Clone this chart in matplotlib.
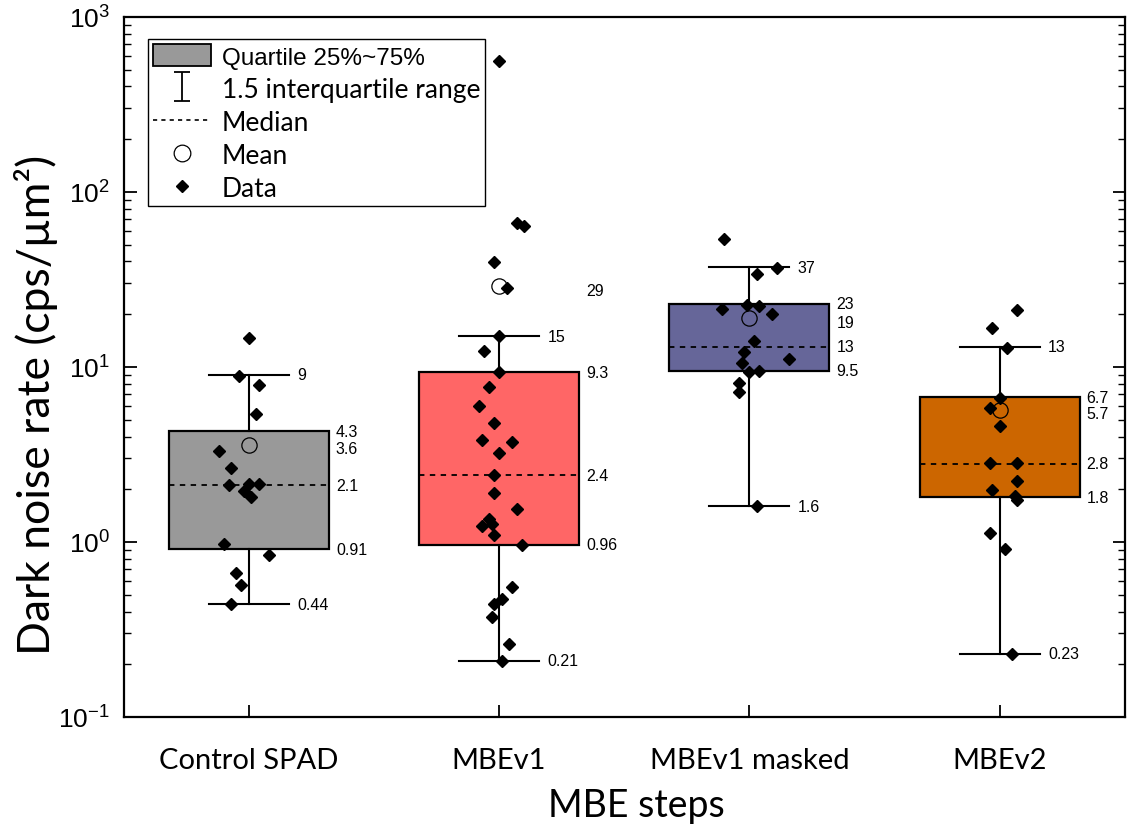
import numpy as np
import matplotlib
matplotlib.use("Agg")
import matplotlib.pyplot as plt
from matplotlib.patches import Patch
from matplotlib.lines import Line2D
from matplotlib.container import ErrorbarContainer
from matplotlib.legend_handler import HandlerErrorbar
from matplotlib.ticker import LogLocator, NullFormatter

plt.rcParams['font.family'] = ['Liberation Sans', 'DejaVu Sans']
plt.rcParams['mathtext.fontset'] = 'custom'
plt.rcParams['mathtext.rm'] = 'Liberation Sans'
plt.rcParams['mathtext.default'] = 'regular'

# categories and box statistics
steps = ["Control SPAD", "MBEv1", "MBEv1 masked", "MBEv2"]
box_colors = ["#999999", "#FF6666", "#666699", "#CC6600"]
q1 = [0.91, 0.96, 9.5, 1.8]
q3 = [4.3, 9.3, 23, 6.7]
medians = [2.1, 2.4, 13, 2.8]
means = [3.6, 29, 19, 5.7]
whis_lo = [0.44, 0.21, 1.6, 0.23]
whis_hi = [9, 15, 37, 13]

# individual devices (dark noise rate, cps/um^2) and their horizontal jitter
control = [14.6, 8.9, 7.9, 5.4, 3.3, 2.64, 2.12, 2.14, 2.14, 1.96, 1.80, 0.97, 0.84, 0.66, 0.57, 0.44]
control_jit = [0.0, -0.04, 0.04, 0.03, -0.12, -0.07, -0.08, 0.0, 0.04, -0.02, 0.01, -0.10, 0.08, -0.05, -0.03, -0.07]
mbev1 = [560, 66, 64, 39.5, 28.1, 15.1, 12.4, 9.3, 7.7, 6.0, 4.8, 3.8, 3.7, 3.2, 2.41, 1.90, 1.54, 1.35,
         1.26, 1.23, 1.09, 0.96, 0.55, 0.47, 0.44, 0.37, 0.26, 0.21]
mbev1_jit = [0.0, 0.07, 0.10, -0.02, 0.03, 0.0, -0.06, 0.0, -0.04, -0.08, -0.02, -0.07, 0.05, 0.0, -0.02, -0.02,
             0.07, -0.04, -0.03, -0.07, -0.02, 0.09, 0.05, 0.01, -0.02, -0.03, 0.04, 0.01]
masked = [53.8, 36.5, 33.9, 21.4, 22.6, 22.2, 20.0, 14.1, 12.1, 11.1, 10.5, 9.3, 9.5, 8.1, 7.2, 1.61]
masked_jit = [-0.10, 0.11, 0.03, -0.11, -0.01, 0.04, 0.09, 0.02, -0.02, 0.16, -0.03, 0.0, 0.04, -0.04, -0.04, 0.03]
mbev2 = [21.2, 16.7, 12.8, 6.6, 5.8, 4.6, 2.82, 2.82, 2.23, 1.98, 1.83, 1.74, 1.13, 0.91, 0.23]
mbev2_jit = [0.07, -0.03, 0.03, 0.0, -0.04, 0.0, -0.04, 0.07, 0.07, -0.03, 0.06, 0.07, -0.04, 0.02, 0.05]

data = [control, mbev1, masked, mbev2]
jitter = [control_jit, mbev1_jit, masked_jit, mbev2_jit]

fig = plt.figure(figsize=(11.35, 8.29), dpi=100)
ax = fig.add_axes([0.109, 0.134, 0.882, 0.8445])

pos = np.arange(1, len(steps) + 1)
stats = [dict(q1=q1[i], q3=q3[i], med=medians[i], mean=means[i], whislo=whis_lo[i], whishi=whis_hi[i], fliers=[])
         for i in range(len(steps))]

bp = ax.bxp(stats, positions=pos, widths=0.64, capwidths=0.32, showmeans=True, patch_artist=True,
            boxprops=dict(edgecolor='black', linewidth=1.6),
            whiskerprops=dict(color='black', linewidth=1.5),
            capprops=dict(color='black', linewidth=1.5),
            medianprops=dict(color='black', linestyle=(0, (3, 3)), linewidth=1.3),
            meanprops=dict(marker='o', markerfacecolor='none', markeredgecolor='black',
                           markersize=11, markeredgewidth=0.9))
for patch, c in zip(bp['boxes'], box_colors):
    patch.set_facecolor(c)

for p, vals, jit in zip(pos, data, jitter):
    ax.plot(p + np.array(jit), vals, linestyle='none', marker='D', markersize=6.5,
            color='black', zorder=6)

# value labels
lab_kw = dict(fontsize=11.5, va='center', ha='left', textcoords='offset points', zorder=7)
for i, p in enumerate(pos):
    for v in (whis_lo[i], whis_hi[i]):
        ax.annotate(f"{v:g}", (p + 0.16, v), xytext=(6, 0), **lab_kw)
    for v in (q1[i], q3[i], medians[i]):
        ax.annotate(f"{v:g}", (p + 0.32, v), xytext=(5, 0), **lab_kw)
    ax.annotate(f"{means[i]:g}", (p + 0.32, means[i]), xytext=(5, -3), **lab_kw)

ax.set_yscale('log')
ax.set_ylim(0.1, 1000)
ax.set_xlim(0.5, 4.5)
ax.yaxis.set_major_locator(LogLocator(base=10, numticks=10))
ax.yaxis.set_minor_locator(LogLocator(base=10, subs=np.arange(2, 10), numticks=20))
ax.yaxis.set_minor_formatter(NullFormatter())
ax.tick_params(axis='y', which='major', direction='in', length=9, width=1.3, right=True, labelsize=19, pad=10)
ax.tick_params(axis='y', which='minor', direction='in', length=5, width=1.0, right=True)
ax.tick_params(axis='x', which='major', direction='in', length=9, width=1.3, top=False, pad=22)
ax.set_xticks(pos)
ax.set_xticklabels(steps, family=['Lato', 'DejaVu Sans'], fontsize=21)
for s in ax.spines.values():
    s.set_linewidth(1.6)

ax.set_ylabel("Dark noise rate (cps/µm²)", family=['Lato', 'DejaVu Sans'], fontsize=32)
ax.yaxis.set_label_coords(-0.066, 0.447)
ax.set_xlabel("MBE steps", family=['Lato', 'DejaVu Sans'], fontsize=27)
ax.xaxis.set_label_coords(0.512, -0.1)

# legend
eb = ax.errorbar([np.nan], [np.nan], yerr=[1], fmt='none', ecolor='black', elinewidth=1.3,
                 capsize=6, capthick=1.3)
handles = [
    Patch(facecolor='#999999', edgecolor='black', linewidth=1.3),
    eb,
    Line2D([], [], color='black', linestyle=(0, (2.5, 2.5)), linewidth=1.2),
    Line2D([], [], linestyle='none', marker='o', markerfacecolor='none', markeredgecolor='black',
           markersize=12, markeredgewidth=0.9),
    Line2D([], [], linestyle='none', marker='D', markersize=6.5, color='black'),
]
labels = ["Quartile 25%~75%", "1.5 interquartile range", "Median", "Mean", "Data"]
leg = ax.legend(handles, labels, loc='upper left', bbox_to_anchor=(0.024, 0.969), borderaxespad=0,
                prop=dict(family=['Lato', 'DejaVu Sans'], size=19), fancybox=False, framealpha=1,
                edgecolor='black', handlelength=2.2, handleheight=0.9, handletextpad=0.4,
                labelspacing=0.3, borderpad=0.2,
                handler_map={ErrorbarContainer: HandlerErrorbar(yerr_size=0.55)})
leg.get_frame().set_linewidth(1.0)
first = leg.get_texts()[0]
first.set_family(['Liberation Sans', 'DejaVu Sans'])
first.set_fontsize(17.5)
leg.set_zorder(5)

fig.savefig("out.png", dpi=100)
